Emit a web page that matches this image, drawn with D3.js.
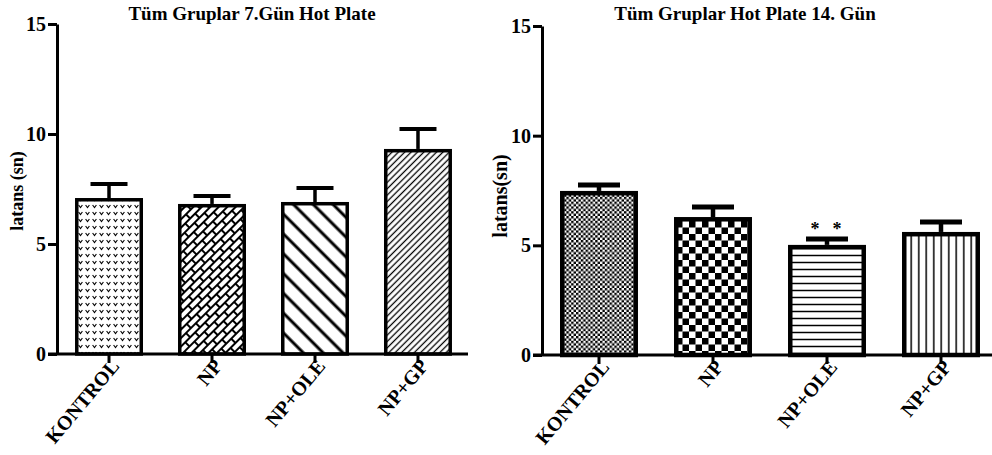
<!DOCTYPE html>
<html>
<head>
<meta charset="utf-8">
<script src="https://cdnjs.cloudflare.com/ajax/libs/d3/7.8.5/d3.min.js"></script>
<style>
body { margin: 0; background: #fff; }
text { font-family: "Liberation Serif", "Times New Roman", serif; font-weight: bold; }
</style>
</head>
<body>
<div id="chart"></div>
<script>
// data
var groups = ["KONTROL", "NP", "NP+OLE", "NP+GP"];
var day7Mean = [7.09, 6.82, 6.91, 9.32];
var day7Err = [0.64, 0.36, 0.64, 0.91];
var day14Mean = [7.48, 6.29, 5.02, 5.61];
var day14Err = [0.27, 0.46, 0.27, 0.45];
var yTicks = [0, 5, 10, 15];

var svg = d3.select("#chart").append("svg").attr("width", 992).attr("height", 455);
var defs = svg.append("defs");

// ---- fill patterns ----
function stripes(id, gap, sw, angle) {
	var p = defs.append("pattern").attr("id", id).attr("patternUnits", "userSpaceOnUse")
		.attr("width", gap).attr("height", gap).attr("patternTransform", "rotate(" + angle + ")");
	p.append("rect").attr("width", gap).attr("height", gap).attr("fill", "white");
	p.append("line").attr("x1", gap / 2).attr("y1", 0).attr("x2", gap / 2).attr("y2", gap)
		.attr("stroke", "black").attr("stroke-width", sw);
}
function checker(id, c) {
	var p = defs.append("pattern").attr("id", id).attr("patternUnits", "userSpaceOnUse")
		.attr("width", 2 * c).attr("height", 2 * c);
	p.append("rect").attr("width", 2 * c).attr("height", 2 * c).attr("fill", "white");
	p.append("rect").attr("width", c).attr("height", c).attr("fill", "black");
	p.append("rect").attr("x", c).attr("y", c).attr("width", c).attr("height", c).attr("fill", "black");
}
stripes("p7c", 14, 3, -45);
stripes("p7d", 4.5, 1.3, 45);
stripes("p14c", 7, 1.5, 90);
stripes("p14d", 7.5, 1.5, 0);
checker("p14a", 2.4);
checker("p14b", 6.5);

// small "v" dot clusters
var pv = defs.append("pattern").attr("id", "p7a").attr("patternUnits", "userSpaceOnUse").attr("width", 7).attr("height", 7);
pv.append("rect").attr("width", 7).attr("height", 7).attr("fill", "white");
pv.append("path").attr("d", "M1.6,2 L3.5,4.6 L5.4,2").attr("fill", "none").attr("stroke", "black").attr("stroke-width", 1.1);

// diagonal bricks
var pb = defs.append("pattern").attr("id", "p7b").attr("patternUnits", "userSpaceOnUse")
	.attr("width", 14).attr("height", 12).attr("patternTransform", "rotate(-45)");
pb.append("rect").attr("width", 14).attr("height", 12).attr("fill", "white");
pb.append("path").attr("d", "M0,1 H14 M0,7 H14 M1,1 V7 M8,7 V13 M8,-5 V1")
	.attr("stroke", "black").attr("stroke-width", 2).attr("fill", "none");

function drawPanel(o) {
	var x = d3.scaleBand().domain(groups).range(o.xRange).paddingInner(o.pi).paddingOuter(o.po);
	var y = d3.scaleLinear().domain([0, 15]).range(o.yRange);
	var g = svg.append("g");

	g.selectAll("rect.bar").data(o.mean).join("rect").attr("class", "bar")
		.attr("x", (d, i) => x(groups[i]) + o.sw / 2)
		.attr("y", d => y(d) + o.sw / 2)
		.attr("width", x.bandwidth() - o.sw)
		.attr("height", d => y(0) - y(d) - o.sw / 2)
		.attr("fill", (d, i) => "url(#" + o.fills[i] + ")")
		.attr("stroke", "black").attr("stroke-width", o.sw);

	// error bars (upper only)
	o.mean.forEach(function(m, i) {
		var cx = x(groups[i]) + x.bandwidth() / 2;
		var top = y(m + o.err[i]);
		g.append("line").attr("x1", cx).attr("x2", cx).attr("y1", y(m)).attr("y2", top)
			.attr("stroke", "black").attr("stroke-width", o.sw);
		g.append("line").attr("x1", cx - o.cap / 2).attr("x2", cx + o.cap / 2).attr("y1", top).attr("y2", top)
			.attr("stroke", "black").attr("stroke-width", o.sw + 0.5);
	});

	var ya = g.append("g").attr("transform", "translate(" + o.xRange[0] + ",0)")
		.call(d3.axisLeft(y).tickValues(yTicks).tickSize(9).tickSizeOuter(0).tickPadding(2));
	ya.attr("font-family", null).attr("font-size", null);
	ya.select(".domain").attr("stroke-width", 3);
	ya.selectAll(".tick line").attr("stroke-width", 3);
	ya.selectAll(".tick text").attr("font-size", 20).attr("fill", "black");

	var xa = g.append("g").attr("transform", "translate(0," + y(0) + ")")
		.call(d3.axisBottom(x).tickSize(9).tickSizeOuter(0));
	xa.attr("font-family", null).attr("font-size", null);
	xa.select(".domain").remove();
	xa.selectAll(".tick line").attr("stroke-width", 3);
	xa.selectAll(".tick text").attr("font-size", 20).attr("fill", "black")
		.attr("text-anchor", "end").attr("x", 0).attr("y", 0).attr("dy", "0.35em")
		.attr("transform", "translate(6,8) rotate(-50)");
	g.append("line").attr("x1", o.xRange[0] - 9).attr("x2", o.axisEnd).attr("y1", y(0)).attr("y2", y(0))
		.attr("stroke", "black").attr("stroke-width", 3);

	g.append("text").attr("x", o.titleX).attr("y", 20).attr("text-anchor", "middle")
		.attr("font-size", 19).text(o.title);
	g.append("text").attr("transform", "translate(" + o.labelX + "," + o.labelY + ") rotate(-90)")
		.attr("text-anchor", "middle").attr("font-size", o.labelSize).text(o.label);
	return {x: x, y: y, g: g};
}

drawPanel({
	xRange: [57, 470], yRange: [354, 24], pi: 0.34, po: 0.175, axisEnd: 468,
	mean: day7Mean, err: day7Err, sw: 3.5, cap: 37,
	fills: ["p7a", "p7b", "p7c", "p7d"],
	title: "Tüm Gruplar 7.Gün Hot Plate", titleX: 252,
	label: "latans (sn)", labelX: 23, labelY: 191, labelSize: 18
});

var right = drawPanel({
	xRange: [542, 998], yRange: [355, 26], pi: 0.316, po: 0.158, axisEnd: 992,
	mean: day14Mean, err: day14Err, sw: 4.5, cap: 42,
	fills: ["p14a", "p14b", "p14c", "p14d"],
	title: "Tüm Gruplar Hot Plate 14. Gün", titleX: 745,
	label: "latans(sn)", labelX: 507, labelY: 196, labelSize: 20
});

// significance marks over NP+OLE
var sx = right.x("NP+OLE") + right.x.bandwidth() / 2;
var sy = right.y(day14Mean[2] + day14Err[2]) - 4;
right.g.append("text").attr("x", sx - 12).attr("y", sy).attr("text-anchor", "middle").attr("font-size", 18).attr("font-weight", "normal").text("*");
right.g.append("text").attr("x", sx + 10).attr("y", sy).attr("text-anchor", "middle").attr("font-size", 18).attr("font-weight", "normal").text("*");
</script>
</body>
</html>
